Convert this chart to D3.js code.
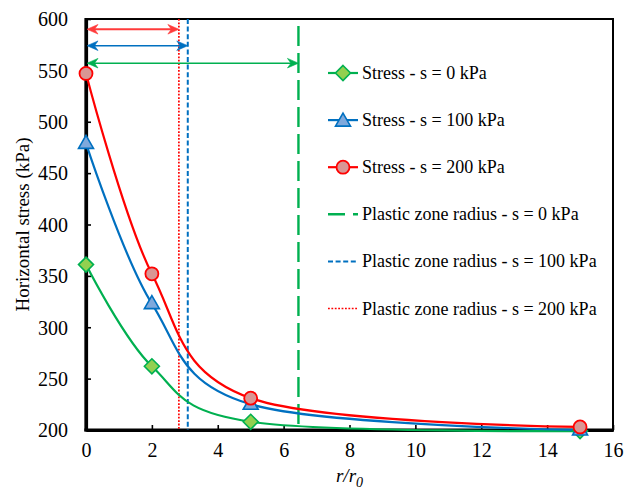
<!DOCTYPE html>
<html>
<head>
<meta charset="utf-8">
<script src="https://cdn.jsdelivr.net/npm/d3@7"></script>
</head>
<body style="margin:0;background:#fff">
<svg id="chart" width="635" height="492" style="display:block"></svg>
<script>
// Normalised distance r/r0 at which stresses were computed
const rRatio = [0, 2, 5, 15];
// Horizontal stress (kPa) for each suction level
const stressS0 = [361, 262, 208, 199];
const stressS100 = [479, 323, 225, 200];
const stressS200 = [547, 352, 231, 203];
// Plastic zone radius r/r0 for s = 0, 100, 200 kPa
const plasticRadius = [6.45, 3.09, 2.82];
// Stress level (kPa) at which each radius arrow is drawn
const arrowLevel = [557, 574, 590];
const xTicks = [0, 2, 4, 6, 8, 10, 12, 14, 16];
const yTicks = [200, 250, 300, 350, 400, 450, 500, 550, 600];
const stressNames = ["Stress - s = 0 kPa", "Stress - s = 100 kPa", "Stress - s = 200 kPa"];
const radiusNames = ["Plastic zone radius - s = 0 kPa", "Plastic zone radius - s = 100 kPa", "Plastic zone radius - s = 200 kPa"];

const svg = d3.select("#chart");
const plotLeft = 86, plotRight = 613, plotTop = 19, plotBottom = 430;

const x = d3.scaleLinear().domain([0, 16]).range([plotLeft, plotRight]);
const y = d3.scaleLinear().domain([200, 600]).range([plotBottom, plotTop]);

const styles = [
  { line: "#00B050", fill: "#92D050", marker: "diamond", dash: "20,7", dashOffset: 20, width: 2.4 },
  { line: "#0070C0", fill: "#7FA9DC", marker: "triangle", dash: "5,2.6", dashOffset: 0, width: 2 },
  { line: "#FF0000", fill: "#D99694", marker: "circle", dash: "1.8,1.6", dashOffset: 0, width: 1.7 }
];
const stressSeries = [stressS0, stressS100, stressS200];

function markerPath(kind) {
  if (kind === "diamond") return "M0,-7.5L7.5,0L0,7.5L-7.5,0Z";
  return "M0,-8L7.5,5L-7.5,5Z";
}
function drawMarker(g, kind, cx, cy, st) {
  if (kind === "circle") {
    g.append("circle").attr("cx", cx).attr("cy", cy).attr("r", 6.5)
      .attr("fill", st.fill).attr("stroke", st.line).attr("stroke-width", 1.8);
  } else {
    g.append("path").attr("d", markerPath(kind))
      .attr("transform", `translate(${cx},${cy})`)
      .attr("fill", st.fill).attr("stroke", st.line).attr("stroke-width", 1.6)
      .attr("stroke-linejoin", "miter");
  }
}

// Plot frame (top and right edges)
svg.append("rect").attr("x", plotLeft).attr("y", plotTop)
  .attr("width", plotRight - plotLeft).attr("height", plotBottom - plotTop)
  .attr("fill", "none").attr("stroke", "#000").attr("stroke-width", 2);

// Axes with inward ticks
const xAxis = svg.append("g").attr("transform", `translate(0,${plotBottom})`)
  .call(d3.axisBottom(x).tickValues(xTicks).tickSizeInner(-5).tickSizeOuter(0).tickPadding(14));
const yAxis = svg.append("g").attr("transform", `translate(${plotLeft},0)`)
  .call(d3.axisLeft(y).tickValues(yTicks).tickSizeInner(-5).tickSizeOuter(0).tickPadding(18));
[xAxis, yAxis].forEach(a => {
  a.attr("font-size", 20).attr("font-family", "Liberation Serif");
  a.select(".domain").attr("stroke", "#000").attr("stroke-width", 3.2);
  a.selectAll(".tick line").attr("stroke", "#000").attr("stroke-width", 1.6);
  a.selectAll(".tick text").attr("fill", "#000");
});
xAxis.selectAll(".tick text").attr("dy", "0.71em").attr("y", 13);
yAxis.selectAll(".tick text").attr("dy", "0.34em");
// extend axis lines to meet at the corner
svg.append("line").attr("x1", plotLeft - 1.6).attr("x2", plotRight + 1).attr("y1", plotBottom).attr("y2", plotBottom)
  .attr("stroke", "#000").attr("stroke-width", 3.2);
svg.append("line").attr("x1", plotLeft).attr("x2", plotLeft).attr("y1", plotTop - 1).attr("y2", plotBottom + 1.6)
  .attr("stroke", "#000").attr("stroke-width", 3.2);

// Axis titles
svg.append("text").attr("transform", `translate(29,${(plotTop + plotBottom) / 2}) rotate(-90)`)
  .attr("text-anchor", "middle").attr("font-size", 19).attr("fill", "#000").text("Horizontal stress (kPa)");
const xt = svg.append("text").attr("x", (plotLeft + plotRight) / 2).attr("y", 482)
  .attr("text-anchor", "middle").attr("font-size", 19).attr("font-style", "italic").attr("fill", "#000");
xt.append("tspan").text("r/r");
xt.append("tspan").attr("font-size", 14).attr("dy", 5).text("0");

// Plastic zone radius lines
plasticRadius.forEach((r, i) => {
  const st = styles[i];
  svg.append("line").attr("x1", x(r)).attr("x2", x(r)).attr("y1", y(600)).attr("y2", y(200))
    .attr("stroke", st.line).attr("stroke-width", st.width)
    .attr("stroke-dasharray", st.dash).attr("stroke-dashoffset", st.dashOffset);
});

// Double-headed arrows spanning each plastic zone
function arrowHead(g, tipX, tipY, dir, color) {
  const L = 11, N = 7.5, W = 4.8;
  const p = `M${tipX},${tipY}L${tipX - dir * L},${tipY - W}L${tipX - dir * N},${tipY}L${tipX - dir * L},${tipY + W}Z`;
  g.append("path").attr("d", p).attr("fill", color).attr("stroke", color).attr("stroke-width", 0.6);
}
const arrowColors = ["#00B050", "#0070C0", "#FF3B3B"];
plasticRadius.forEach((r, i) => {
  const g = svg.append("g");
  const yy = y(arrowLevel[i]), x0 = x(0) + 1, x1 = x(r);
  g.append("line").attr("x1", x0 + 4).attr("x2", x1 - 4).attr("y1", yy).attr("y2", yy)
    .attr("stroke", arrowColors[i]).attr("stroke-width", i === 2 ? 2 : 1.5);
  arrowHead(g, x0, yy, -1, arrowColors[i]);
  arrowHead(g, x1, yy, 1, arrowColors[i]);
});

// Smoothed stress curves and markers
const line = d3.line().x((d, i) => x(rRatio[i])).y(d => y(d)).curve(d3.curveCardinal.tension(0));
stressSeries.forEach((vals, i) => {
  svg.append("path").attr("d", line(vals)).attr("fill", "none")
    .attr("stroke", styles[i].line).attr("stroke-width", 2.2);
});
stressSeries.forEach((vals, i) => {
  const g = svg.append("g");
  vals.forEach((v, j) => drawMarker(g, styles[i].marker, x(rRatio[j]), y(v), styles[i]));
});

// Legend
const legX = 328, legY0 = 73, legStep = 47.1;
stressNames.forEach((name, i) => {
  const yy = legY0 + i * legStep, st = styles[i];
  const g = svg.append("g");
  g.append("line").attr("x1", legX).attr("x2", legX + 30).attr("y1", yy).attr("y2", yy)
    .attr("stroke", st.line).attr("stroke-width", 2.2);
  drawMarker(g, st.marker, legX + 15, yy + (st.marker === "triangle" ? 1 : 0), st);
  g.append("text").attr("x", legX + 34).attr("y", yy + 6).attr("font-size", 18).attr("fill", "#000").text(name);
});
radiusNames.forEach((name, i) => {
  const yy = legY0 + (i + 3) * legStep, st = styles[i];
  const g = svg.append("g");
  g.append("line").attr("x1", legX).attr("x2", legX + 30).attr("y1", yy).attr("y2", yy)
    .attr("stroke", st.line).attr("stroke-width", st.width)
    .attr("stroke-dasharray", i === 0 ? "17,8" : st.dash);
  g.append("text").attr("x", legX + 34).attr("y", yy + 6).attr("font-size", 18).attr("fill", "#000").text(name);
});

// Serif face on every label
svg.selectAll("text").attr("font-family", "Liberation Serif").style("font-family", '"Liberation Serif"');
</script>
</body>
</html>
